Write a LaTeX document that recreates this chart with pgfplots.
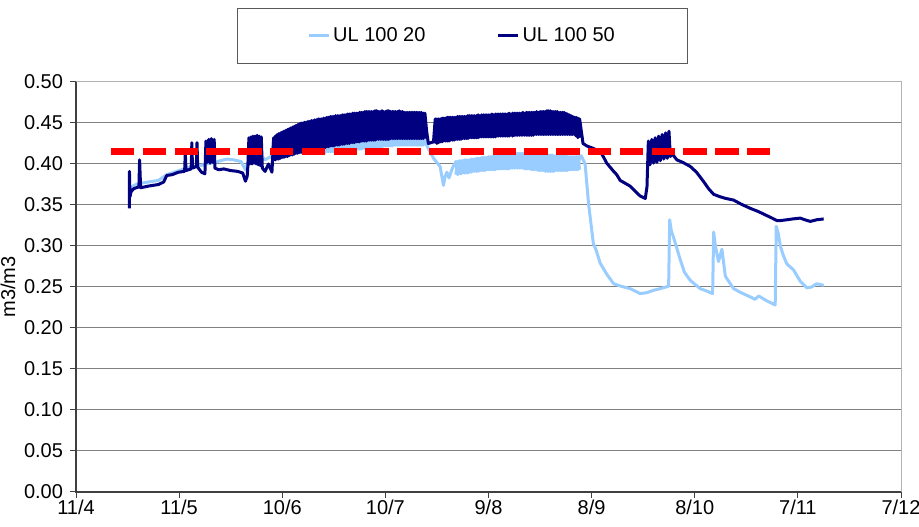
\documentclass[border=0pt]{standalone}
\usepackage{fontspec}
\setmainfont{Liberation Sans}
\usepackage{pgfplots}
\pgfplotsset{compat=1.18}
\definecolor{ulfifty}{HTML}{000080}
\definecolor{ultwenty}{HTML}{99CCFF}
\begin{document}
\begin{tikzpicture}[font=\fontsize{10}{12}\selectfont]
\begin{axis}[
  name=ax,
  scale only axis,
  width=412.5pt, height=205pt,
  xmin=0, xmax=240, ymin=0, ymax=0.5,
  xtick={0,30,60,90,120,150,180,210,240},
  xticklabels={11/4,11/5,10/6,10/7,9/8,8/9,8/10,7/11,7/12},
  xticklabel style={yshift=2.5pt},
  ytick={0,0.05,0.1,0.15,0.2,0.25,0.3,0.35,0.4,0.45,0.5},
  yticklabel style={/pgf/number format/.cd,fixed,fixed zerofill,precision=2},
  /pgf/number format/assume math mode=true,
  tick align=outside, major tick length=3pt,
  xtick pos=bottom, ytick pos=left,
  tick style={black!75, line width=0.5pt},
  ymajorgrids, grid style={gray, line width=0.5pt},
  axis line style={gray!60, line width=0.5pt},
  ylabel={m3/m3},
  every axis y label/.style={at={(axis description cs:-0.0824,0.5)}, rotate=90, anchor=center},
  legend columns=2,
  legend style={at={(0.4685,1)}, anchor=south, yshift=9pt,
    draw=gray!70!black, line width=0.6pt,
    inner xsep=35pt, inner ysep=8pt,
    nodes={inner xsep=1.5pt, inner ysep=1.5pt},
    /tikz/every even column/.append style={column sep=34pt},
    font=\fontsize{10}{12}\selectfont},
  legend image code/.code={\draw[#1] (0pt,0pt) -- (10pt,0pt);},
  clip=false,
]
% UL 100 20
\addplot[ultwenty, line width=1.5pt, line join=round] coordinates {
(15.5,0.362) (16.0,0.372) (18.0,0.376) (21.0,0.378) (24.0,0.380) (26.4,0.387) (30.0,0.392) (33.0,0.396) (36.0,0.398) (38.0,0.400) (40.5,0.402) (42.0,0.404) (44.0,0.406) (46.0,0.405) (48.0,0.403) (49.3,0.393) (50.0,0.402) (52.0,0.408) (54.0,0.410) (55.0,0.405) (57.0,0.410)
(57.5,0.430) (58,0.413) (58.5,0.430) (59,0.413) (59.5,0.430) (60,0.414) (60.5,0.430) (61,0.414) (61.5,0.430) (62,0.415) (62.5,0.430) (63,0.415) (63.5,0.430) (64,0.415) (64.5,0.430) (65,0.414) (65.5,0.430) (66,0.414) (66.5,0.430) (67,0.414) (67.5,0.430) (68,0.414) (68.5,0.430) (69,0.414) (69.5,0.430) (70,0.414) (70.5,0.430) (71,0.414) (71.5,0.430) (72,0.414) (72.5,0.430) (73,0.415) (73.5,0.430) (74,0.415) (74.5,0.430) (75,0.415) (75.5,0.430) (76,0.415) (76.5,0.430) (77,0.416) (77.5,0.430) (78,0.416) (78.5,0.430) (79,0.417) (79.5,0.430) (80,0.417) (80.5,0.430) (81,0.418) (81.5,0.430) (82,0.418) (82.5,0.430) (83,0.418) (83.5,0.430) (84,0.419) (84.5,0.430) (85,0.419) (85.5,0.430) (86,0.420) (86.5,0.431) (87,0.420) (87.5,0.431) (88,0.421) (88.5,0.431) (89,0.421) (89.5,0.431) (90,0.422) (90.5,0.431) (91,0.422) (91.5,0.431) (92,0.422) (92.5,0.431) (93,0.423) (93.5,0.431) (94,0.423) (94.5,0.431) (95,0.423) (95.5,0.431) (96,0.423) (96.5,0.431) (97,0.423) (97.5,0.431) (98,0.423) (98.5,0.431) (99,0.423) (99.5,0.431) (100,0.423) (100.5,0.431) (101,0.423) (101.5,0.430)
(102.0,0.423) (103.0,0.415) (104.0,0.407) (105.9,0.397) (106.9,0.374) (107.4,0.385) (107.9,0.390) (108.5,0.383) (109.5,0.395)
(110.5,0.403) (111,0.387) (111.5,0.404) (112,0.388) (112.5,0.404) (113,0.389) (113.5,0.405) (114,0.389) (114.5,0.405) (115,0.390) (115.5,0.406) (116,0.391) (116.5,0.407) (117,0.391) (117.5,0.407) (118,0.392) (118.5,0.408) (119,0.392) (119.5,0.408) (120,0.393) (120.5,0.409) (121,0.393) (121.5,0.410) (122,0.393) (122.5,0.410) (123,0.394) (123.5,0.411) (124,0.394) (124.5,0.411) (125,0.394) (125.5,0.412) (126,0.394) (126.5,0.412) (127,0.395) (127.5,0.413) (128,0.395) (128.5,0.413) (129,0.395) (129.5,0.413) (130,0.395) (130.5,0.413) (131,0.394) (131.5,0.413) (132,0.394) (132.5,0.412) (133,0.393) (133.5,0.412) (134,0.393) (134.5,0.412) (135,0.392) (135.5,0.411) (136,0.392) (136.5,0.411) (137,0.391) (137.5,0.411) (138,0.391) (138.5,0.411) (139,0.391) (139.5,0.410) (140,0.392) (140.5,0.410) (141,0.392) (141.5,0.410) (142,0.392) (142.5,0.410) (143,0.392) (143.5,0.409) (144,0.393) (144.5,0.409) (145,0.393) (145.5,0.409) (146,0.393) (146.5,0.409)
(147.0,0.410) (148.1,0.400) (149.1,0.352) (150.5,0.303) (151.3,0.295) (152.5,0.279) (154.5,0.265) (156.4,0.254) (158.5,0.251) (161.2,0.248) (164.1,0.242) (166.0,0.243) (168.0,0.246) (170.0,0.248) (172.4,0.251) (172.7,0.332) (173.2,0.318) (173.8,0.311) (175.8,0.283) (177.0,0.268) (178.7,0.258) (181.6,0.248) (183.5,0.245) (185.2,0.242) (185.5,0.317) (186.0,0.300) (186.9,0.281) (187.5,0.290) (187.9,0.296) (188.9,0.263) (191.3,0.248) (193.5,0.243) (196.1,0.238) (197.5,0.235) (198.6,0.239) (201.0,0.233) (202.5,0.230) (203.4,0.228) (203.7,0.324) (204.3,0.315) (204.9,0.300) (205.8,0.288) (206.8,0.278) (208.7,0.271) (210.7,0.257) (212.6,0.249) (214.0,0.250) (215.5,0.254) (217.5,0.252)
};
\addlegendentry{UL 100 20}
% UL 100 20, second phase of the daily swing
\addplot[ultwenty, line width=1.5pt, line join=round, forget plot] coordinates {
(70.5,0.414) (71,0.430) (71.5,0.414) (72,0.430) (72.5,0.414) (73,0.430) (73.5,0.415) (74,0.430) (74.5,0.415) (75,0.430) (75.5,0.415) (76,0.430) (76.5,0.416) (77,0.430) (77.5,0.416) (78,0.430) (78.5,0.417) (79,0.430) (79.5,0.417) (80,0.430) (80.5,0.418) (81,0.430) (81.5,0.418) (82,0.430) (82.5,0.418) (83,0.430) (83.5,0.419) (84,0.430) (84.5,0.419) (85,0.430) (85.5,0.420) (86,0.431) (86.5,0.420) (87,0.431) (87.5,0.421) (88,0.431) (88.5,0.421) (89,0.431) (89.5,0.422) (90,0.431) (90.5,0.422) (91,0.431) (91.5,0.422) (92,0.431) (92.5,0.423) (93,0.431) (93.5,0.423) (94,0.431) (94.5,0.423) (95,0.431) (95.5,0.423) (96,0.431) (96.5,0.423) (97,0.431) (97.5,0.423) (98,0.431) (98.5,0.423) (99,0.431) (99.5,0.423) (100,0.431) (100.5,0.423) (101,0.431) (101.5,0.423)
};
\addplot[ultwenty, line width=1.5pt, line join=round, forget plot] coordinates {
(110.5,0.387) (111,0.403) (111.5,0.388) (112,0.404) (112.5,0.389) (113,0.405) (113.5,0.389) (114,0.405) (114.5,0.390) (115,0.406) (115.5,0.391) (116,0.406) (116.5,0.391) (117,0.407) (117.5,0.392) (118,0.408) (118.5,0.392) (119,0.408) (119.5,0.393) (120,0.409) (120.5,0.393) (121,0.409) (121.5,0.393) (122,0.410) (122.5,0.394) (123,0.410) (123.5,0.394) (124,0.411) (124.5,0.394) (125,0.411) (125.5,0.394) (126,0.412) (126.5,0.395) (127,0.412) (127.5,0.395) (128,0.413) (128.5,0.395) (129,0.413) (129.5,0.395) (130,0.413) (130.5,0.394) (131,0.413) (131.5,0.394) (132,0.413) (132.5,0.393) (133,0.412) (133.5,0.393) (134,0.412) (134.5,0.392) (135,0.411) (135.5,0.392) (136,0.411) (136.5,0.391) (137,0.411) (137.5,0.391) (138,0.411) (138.5,0.391) (139,0.410) (139.5,0.392) (140,0.410) (140.5,0.392) (141,0.410) (141.5,0.392) (142,0.410) (142.5,0.392) (143,0.409) (143.5,0.393) (144,0.409) (144.5,0.393) (145,0.409) (145.5,0.393) (146,0.409) (146.5,0.393)
};
% UL 100 50
\addplot[ulfifty, line width=1.5pt, line join=round] coordinates {
(15.5,0.346) (15.55,0.391) (15.7,0.360) (16.0,0.366) (16.8,0.370) (18.3,0.372) (18.5,0.405) (18.8,0.371) (21.0,0.373) (24.0,0.375) (25.5,0.378) (26.4,0.386) (28.0,0.387) (29.8,0.390) (31.6,0.391) (31.8,0.414) (32.0,0.392) (33.5,0.394) (33.7,0.426) (33.9,0.395) (35.0,0.397) (35.2,0.426) (35.4,0.396) (36.5,0.390) (37.5,0.388) (37.8,0.428) (38.2,0.402) (38.6,0.430) (39.0,0.401) (39.4,0.431) (39.8,0.402) (40.2,0.430) (40.4,0.395) (41.5,0.393) (43.0,0.394) (45.0,0.392) (47.0,0.391) (48.5,0.389) (49.3,0.379) (49.8,0.385)
(50.0,0.398) (50.3,0.432) (50.6,0.400) (50.9,0.433) (51.2,0.400) (51.5,0.434) (51.8,0.401) (52.1,0.434) (52.4,0.400) (52.7,0.435) (53.0,0.399) (53.3,0.434) (53.6,0.398) (53.9,0.433) (54.2,0.395) (55.0,0.391) (56.0,0.400) (56.5,0.395) (57.0,0.390)
(57.5,0.432) (58,0.405) (58.5,0.436) (59,0.406) (59.5,0.438) (60,0.408) (60.5,0.440) (61,0.409) (61.5,0.442) (62,0.410) (62.5,0.444) (63,0.411) (63.5,0.446) (64,0.413) (64.5,0.448) (65,0.414) (65.5,0.450) (66,0.415) (66.5,0.451) (67,0.416) (67.5,0.452) (68,0.417) (68.5,0.453) (69,0.418) (69.5,0.454) (70,0.419) (70.5,0.455) (71,0.419) (71.5,0.455) (72,0.420) (72.5,0.456) (73,0.421) (73.5,0.457) (74,0.422) (74.5,0.458) (75,0.422) (75.5,0.459) (76,0.423) (76.5,0.459) (77,0.424) (77.5,0.460) (78,0.424) (78.5,0.460) (79,0.425) (79.5,0.461) (80,0.426) (80.5,0.462) (81,0.426) (81.5,0.462) (82,0.427) (82.5,0.463) (83,0.428) (83.5,0.463) (84,0.428) (84.5,0.464) (85,0.429) (85.5,0.464) (86,0.429) (86.5,0.464) (87,0.429) (87.5,0.465) (88,0.430) (88.5,0.464) (89,0.430) (89.5,0.464) (90,0.430) (90.5,0.465) (91,0.430) (91.5,0.464) (92,0.431) (92.5,0.464) (93,0.431) (93.5,0.464) (94,0.431) (94.5,0.464) (95,0.431) (95.5,0.463) (96,0.431) (96.5,0.463) (97,0.431) (97.5,0.463) (98,0.431) (98.5,0.463) (99,0.431) (99.5,0.463) (100,0.431) (100.5,0.463) (101,0.431) (101.5,0.462)
(102.0,0.440) (102.5,0.425) (104.0,0.427)
(104.5,0.455) (105,0.425) (105.5,0.455) (106,0.427) (106.5,0.456) (107,0.428) (107.5,0.456) (108,0.428) (108.5,0.457) (109,0.429) (109.5,0.457) (110,0.429) (110.5,0.457) (111,0.430) (111.5,0.458) (112,0.430) (112.5,0.458) (113,0.431) (113.5,0.458) (114,0.431) (114.5,0.459) (115,0.432) (115.5,0.459) (116,0.432) (116.5,0.459) (117,0.432) (117.5,0.459) (118,0.433) (118.5,0.460) (119,0.433) (119.5,0.460) (120,0.433) (120.5,0.460) (121,0.433) (121.5,0.460) (122,0.433) (122.5,0.461) (123,0.434) (123.5,0.461) (124,0.434) (124.5,0.461) (125,0.434) (125.5,0.461) (126,0.434) (126.5,0.461) (127,0.434) (127.5,0.462) (128,0.435) (128.5,0.462) (129,0.435) (129.5,0.462) (130,0.435) (130.5,0.462) (131,0.435) (131.5,0.463) (132,0.435) (132.5,0.463) (133,0.435) (133.5,0.463) (134,0.436) (134.5,0.463) (135,0.436) (135.5,0.464) (136,0.436) (136.5,0.464) (137,0.436) (137.5,0.465) (138,0.436) (138.5,0.464) (139,0.436) (139.5,0.464) (140,0.436) (140.5,0.463) (141,0.436) (141.5,0.463) (142,0.436) (142.5,0.462) (143,0.436) (143.5,0.460) (144,0.436) (144.5,0.458) (145,0.436) (145.5,0.457) (146,0.432) (146.5,0.455)
(147.5,0.425) (148.6,0.422) (150.5,0.419) (152.5,0.415) (153.4,0.409) (154.4,0.401) (156.4,0.391) (157.3,0.387) (158.3,0.380) (161.2,0.373) (164.1,0.361) (165.6,0.358) (166.1,0.372)
(166.5,0.428) (167.0,0.399) (167.5,0.430) (168.0,0.401) (168.5,0.432) (169.0,0.402) (169.5,0.434) (170.0,0.404) (170.5,0.436) (171.0,0.406) (171.5,0.438) (172.0,0.407) (172.5,0.440) (172.9,0.409)
(173.3,0.413) (174.8,0.405) (176.5,0.402) (178.7,0.397) (180.5,0.390) (182.5,0.379) (184.0,0.370) (185.5,0.363) (187.4,0.360) (189.0,0.358) (191.3,0.356) (193.5,0.351) (196.1,0.346) (198.5,0.342) (201.0,0.337) (202.5,0.334) (203.9,0.331) (205.0,0.331) (206.8,0.332) (208.5,0.333) (210.7,0.334) (212.0,0.332) (213.6,0.330) (215.5,0.332) (217.5,0.333)
};
\addlegendentry{UL 100 50}
% UL 100 50, second phase of the daily swing
\addplot[ulfifty, line width=1.5pt, line join=round, forget plot] coordinates {
(57.5,0.404) (58,0.434) (58.5,0.406) (59,0.437) (59.5,0.407) (60,0.439) (60.5,0.408) (61,0.441) (61.5,0.409) (62,0.443) (62.5,0.411) (63,0.445) (63.5,0.412) (64,0.447) (64.5,0.413) (65,0.449) (65.5,0.414) (66,0.450) (66.5,0.415) (67,0.451) (67.5,0.416) (68,0.452) (68.5,0.417) (69,0.453) (69.5,0.418) (70,0.454) (70.5,0.419) (71,0.455) (71.5,0.420) (72,0.456) (72.5,0.420) (73,0.457) (73.5,0.421) (74,0.458) (74.5,0.422) (75,0.458) (75.5,0.423) (76,0.459) (76.5,0.423) (77,0.459) (77.5,0.424) (78,0.460) (78.5,0.425) (79,0.461) (79.5,0.425) (80,0.461) (80.5,0.426) (81,0.462) (81.5,0.427) (82,0.462) (82.5,0.427) (83,0.463) (83.5,0.428) (84,0.464) (84.5,0.428) (85,0.464) (85.5,0.429) (86,0.464) (86.5,0.429) (87,0.465) (87.5,0.430) (88,0.464) (88.5,0.430) (89,0.465) (89.5,0.430) (90,0.464) (90.5,0.430) (91,0.465) (91.5,0.431) (92,0.464) (92.5,0.431) (93,0.464) (93.5,0.431) (94,0.465) (94.5,0.431) (95,0.464) (95.5,0.431) (96,0.463) (96.5,0.431) (97,0.463) (97.5,0.431) (98,0.463) (98.5,0.431) (99,0.463) (99.5,0.431) (100,0.463) (100.5,0.431) (101,0.462) (101.5,0.431)
};
\addplot[ulfifty, line width=1.5pt, line join=round, forget plot] coordinates {
(104.5,0.425) (105,0.455) (105.5,0.426) (106,0.455) (106.5,0.427) (107,0.456) (107.5,0.428) (108,0.457) (108.5,0.428) (109,0.457) (109.5,0.429) (110,0.457) (110.5,0.430) (111,0.458) (111.5,0.430) (112,0.458) (112.5,0.431) (113,0.458) (113.5,0.431) (114,0.459) (114.5,0.432) (115,0.459) (115.5,0.432) (116,0.459) (116.5,0.432) (117,0.460) (117.5,0.433) (118,0.460) (118.5,0.433) (119,0.460) (119.5,0.433) (120,0.460) (120.5,0.433) (121,0.461) (121.5,0.433) (122,0.461) (122.5,0.434) (123,0.461) (123.5,0.434) (124,0.461) (124.5,0.434) (125,0.461) (125.5,0.434) (126,0.462) (126.5,0.435) (127,0.462) (127.5,0.435) (128,0.462) (128.5,0.435) (129,0.462) (129.5,0.435) (130,0.463) (130.5,0.435) (131,0.463) (131.5,0.435) (132,0.463) (132.5,0.435) (133,0.463) (133.5,0.436) (134,0.464) (134.5,0.436) (135,0.464) (135.5,0.436) (136,0.464) (136.5,0.436) (137,0.465) (137.5,0.436) (138,0.465) (138.5,0.436) (139,0.464) (139.5,0.436) (140,0.464) (140.5,0.436) (141,0.463) (141.5,0.436) (142,0.463) (142.5,0.436) (143,0.461) (143.5,0.436) (144,0.459) (144.5,0.436) (145,0.457) (145.5,0.434) (146,0.456) (146.5,0.432)
};
% threshold
\addplot[red, line width=3.7pt, dash pattern=on 11.7pt off 4.2pt, forget plot] coordinates {(10.2,0.415) (203.4,0.415)};
\draw[black!75, line width=0.6pt] (rel axis cs:0,1) -- (rel axis cs:0,0) -- (rel axis cs:1,0);
\end{axis}
\pgfresetboundingbox
\path[use as bounding box] ([xshift=-38pt,yshift=-17.5pt]ax.south west) rectangle ([xshift=9pt,yshift=41pt]ax.north east);
\end{tikzpicture}
\end{document}
